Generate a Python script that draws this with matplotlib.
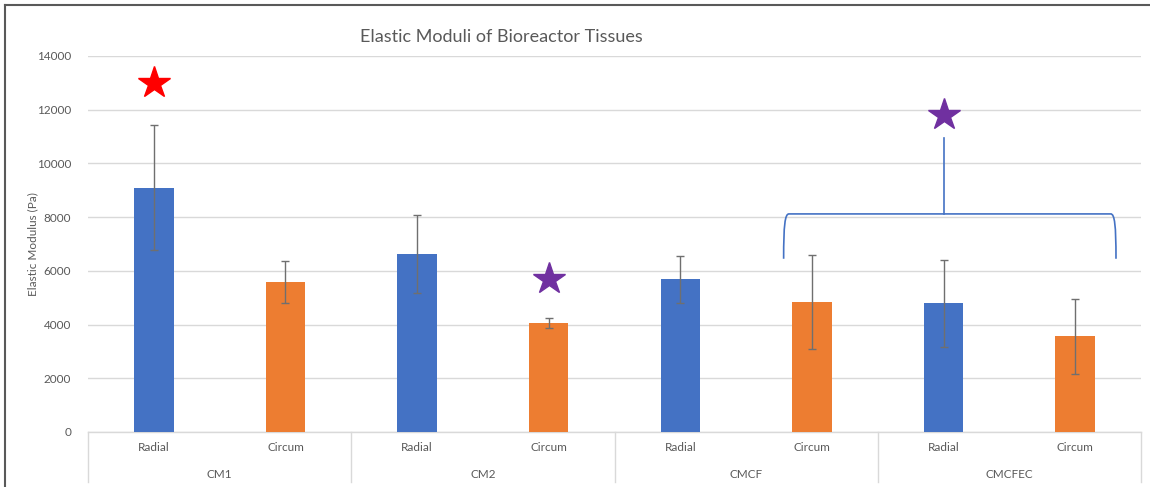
import matplotlib
matplotlib.use("Agg")
import matplotlib.pyplot as plt
from matplotlib.path import Path
from matplotlib.patches import PathPatch

# --- data -------------------------------------------------------------
groups = ["CM1", "CM2", "CMCF", "CMCFEC"]
directions = ["Radial", "Circum"]
moduli = [9100, 5600, 6620, 4070, 5680, 4850, 4790, 3560]
errors = [2320, 780, 1450, 190, 860, 1750, 1620, 1400]
y_ticks = [0, 2000, 4000, 6000, 8000, 10000, 12000, 14000]

BLUE = "#4472C4"
ORANGE = "#ED7D31"
TEXT = "#595959"
GRID = "#D9D9D9"

plt.rcParams["font.family"] = ["Lato", "DejaVu Sans"]

fig = plt.figure(figsize=(11.5, 4.87), dpi=100)
W, H = 1150, 487
ax = fig.add_axes([88 / W, (H - 432) / H, (1141 - 88) / W, (432 - 56) / H])

n = len(moduli)
xs = list(range(n))
colors = [BLUE if i % 2 == 0 else ORANGE for i in xs]

ax.bar(xs, moduli, width=0.3, color=colors, zorder=3)
ax.errorbar(xs, moduli, yerr=errors, fmt="none", ecolor="#6F6F6F",
            elinewidth=1.0, capsize=3, capthick=1.0, zorder=4)

ax.set_xlim(-0.5, n - 0.5)
ax.set_ylim(0, 14000)
ax.set_yticks(y_ticks)
ax.set_yticklabels([str(v) for v in y_ticks], fontsize=8.5, color=TEXT)
ax.tick_params(axis="y", length=0, pad=12)
ax.yaxis.grid(True, color=GRID, linewidth=1.0, zorder=0)
ax.set_axisbelow(True)

for side in ("top", "right", "left"):
    ax.spines[side].set_visible(False)
ax.spines["bottom"].set_color(GRID)
ax.spines["bottom"].set_linewidth(1.0)

# two-level category axis
ax.set_xticks(xs)
ax.set_xticklabels([directions[i % 2] for i in xs], fontsize=8.5, color=TEXT)
ax.tick_params(axis="x", length=0, pad=7)

trans = ax.get_xaxis_transform()
for gi, g in enumerate(groups):
    ax.text(2 * gi + 0.5, -0.112, g, transform=trans, ha="center",
            va="center", fontsize=8.5, color=TEXT)
for b in range(len(groups) + 1):
    ax.plot([2 * b - 0.5, 2 * b - 0.5], [0, -0.134], transform=trans,
            color=GRID, linewidth=1.0, clip_on=False)

ax.set_ylabel("Elastic Modulus (Pa)", fontsize=8.5, color=TEXT)
ax.yaxis.set_label_coords(-0.0475, 0.5)

# significance markers
ax.plot([0], [13000], marker="*", markersize=24, color="#FF0000",
        linestyle="none", zorder=5)
ax.plot([3], [5680], marker="*", markersize=24, color="#7030A0",
        linestyle="none", zorder=5)
ax.plot([6], [11800], marker="*", markersize=24, color="#7030A0",
        linestyle="none", zorder=5)

# bracket over the CMCF circum / CMCFEC bars
bx0, bx1, by, bdrop = 4.785, 7.31, 8120, 6450
verts = [(bx0, bdrop), (bx0, 7700), (bx0 + 0.01, by), (bx0 + 0.04, by),
         (bx1 - 0.04, by), (bx1 - 0.01, by), (bx1, 7700), (bx1, bdrop)]
codes = [Path.MOVETO, Path.CURVE4, Path.CURVE4, Path.CURVE4,
         Path.LINETO, Path.CURVE4, Path.CURVE4, Path.CURVE4]
ax.add_patch(PathPatch(Path(verts, codes), facecolor="none",
                       edgecolor=BLUE, linewidth=1.2, zorder=5))
ax.plot([6, 6], [by, 10950], color=BLUE, linewidth=1.2, zorder=5)

fig.text(501 / W, 1 - 37 / H, "Elastic Moduli of Bioreactor Tissues",
         ha="center", va="center", fontsize=13, color=TEXT)

# chart frame
fig.add_artist(plt.Line2D([5 / W, 5 / W], [0, 1 - 5 / H],
                          transform=fig.transFigure, color="#595959", linewidth=1.5))
fig.add_artist(plt.Line2D([5 / W, 1], [1 - 5 / H, 1 - 5 / H],
                          transform=fig.transFigure, color="#595959", linewidth=1.5))

fig.savefig("out.png", dpi=100)
